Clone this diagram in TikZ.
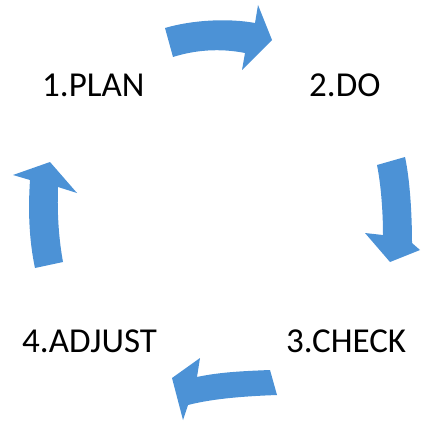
\documentclass[tikz,border=0pt]{standalone}
\usepackage{fontspec}
\setmainfont{Carlito}
\definecolor{arrowblue}{RGB}{76,146,214}
\begin{document}
\begin{tikzpicture}[x=1pt,y=-1pt,
  phase/.style={anchor=base west,inner sep=0pt,font=\fontsize{35}{42}\selectfont},
  cyclearrow/.style={fill=arrowblue}]
  \useasboundingbox (0,0) rectangle (421,422);

  \node[phase] (plan)   at (42,97)  {1.PLAN};
  \node[phase] (do)     at (309,97) {2.DO};
  \node[phase] (check)  at (286,352) {3.CHECK};
  \node[phase] (adjust) at (22,352) {4.ADJUST};

  % plan -> do
  \fill[cyclearrow] (165,28) .. controls (192,20) and (228,18) .. (255,23)
    -- (258,5) -- (272,40) -- (242,70) -- (245,53)
    .. controls (220,48) and (195,50) .. (173,57) -- cycle;
  % do -> check
  \fill[cyclearrow] (405,157) .. controls (410,180) and (412,215) .. (412,243)
    -- (420,250) -- (390,262) -- (365,233) -- (383,235)
    .. controls (383,212) and (381,185) .. (377,165) -- cycle;
  % check -> adjust
  \fill[cyclearrow] (270,370) .. controls (245,371) and (220,372) .. (197,377)
    -- (200,358) -- (172,378) -- (183,420) -- (188,405)
    .. controls (215,398) and (250,396) .. (277,395) -- cycle;
  % adjust -> plan
  \fill[cyclearrow] (35,268) .. controls (29,240) and (28,210) .. (30,180)
    -- (13,175) -- (50,162) -- (77,193) -- (58,187)
    .. controls (57,215) and (59,240) .. (63,262) -- cycle;
\end{tikzpicture}
\end{document}
